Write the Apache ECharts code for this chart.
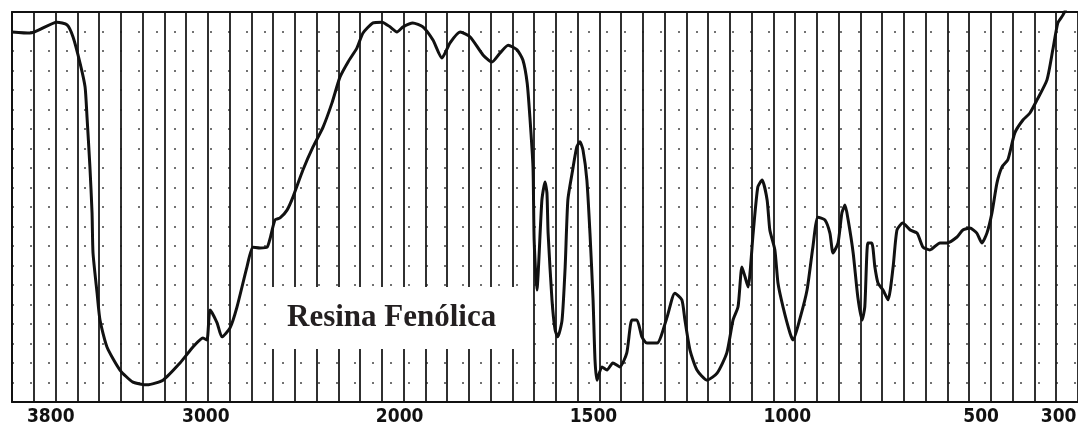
<!DOCTYPE html>
<html>
<head>
<meta charset="utf-8">
<script src="https://cdn.jsdelivr.net/npm/echarts@6/dist/echarts.min.js"></script>
<style>
  html, body { margin: 0; padding: 0; background: #fff; }
  #chart { width: 1078px; height: 428px; }
</style>
</head>
<body>
<div id="chart"></div>
<script>
// Tick labels (wavenumber, cm-1)
const tickLabels = [3800, 3000, 2000, 1500, 1000, 500, 300];

// IR spectrum: wavenumber (cm-1) and transmittance (%)
const wavenumbers = [
  4000, 3907, 3768, 3716, 3685, 3649, 3623, 3613, 3598, 3587,
  3582, 3561, 3546, 3510, 3443, 3376, 3303, 3221, 3133, 3066,
  3015, 2994, 2978, 2942, 2917, 2875, 2839, 2788, 2757, 2720,
  2684, 2669, 2643, 2617, 2581, 2550, 2499, 2447, 2395, 2349,
  2308, 2266, 2220, 2189, 2137, 2091, 2050, 2014, 1991, 1966,
  1940, 1914, 1891, 1870, 1844, 1818, 1785, 1762, 1741, 1720,
  1697, 1682, 1671, 1664, 1656, 1653, 1646, 1633, 1625, 1620,
  1617, 1607, 1599, 1592, 1581, 1573, 1566, 1555, 1543, 1535,
  1527, 1517, 1509, 1501, 1496, 1491, 1478, 1465, 1450, 1432,
  1414, 1401, 1388, 1375, 1362, 1336, 1310, 1290, 1272, 1264,
  1251, 1233, 1207, 1181, 1156, 1140, 1127, 1117, 1109, 1101,
  1088, 1076, 1065, 1052, 1045, 1032, 1024, 1011, 993, 985,
  967, 949, 934, 921, 903, 890, 882, 869, 859, 851,
  843, 830, 818, 807, 800, 792, 782, 774, 766, 753,
  740, 727, 717, 702, 683, 665, 650, 632, 606, 588,
  562, 547, 529, 511, 498, 485, 472, 459, 446, 431,
  413, 392, 374, 356, 330, 315, 302, 289, 276
];
const transmittance = [
  94.9, 94.6, 97.4, 96.7, 93.6, 86.9, 80.8, 73.1, 60.3, 48.5,
  38.2, 27.9, 21.0, 14.1, 8.2, 5.1, 4.4, 5.6, 10.0, 14.1,
  16.4, 15.9, 23.6, 20.3, 16.7, 19.0, 24.4, 34.6, 39.7, 39.5,
  39.7, 41.8, 46.7, 47.2, 49.2, 52.6, 59.5, 65.4, 70.5, 76.7,
  83.3, 87.2, 90.8, 94.6, 97.2, 97.4, 96.2, 94.9, 96.2, 97.2,
  96.2, 92.8, 88.2, 92.1, 94.9, 93.6, 89.0, 87.2, 89.5, 91.5,
  90.3, 87.7, 81.8, 73.1, 60.3, 41.5, 28.7, 51.8, 56.4, 53.6,
  43.3, 26.2, 18.5, 16.7, 21.0, 34.6, 51.8, 58.7, 65.4, 66.7,
  64.6, 56.9, 43.3, 26.2, 10.8, 5.6, 9.0, 8.2, 10.0, 9.0,
  12.6, 21.0, 21.0, 16.7, 15.1, 15.1, 21.8, 27.9, 26.2, 21.0,
  13.3, 8.2, 5.6, 7.4, 12.6, 21.0, 24.4, 34.6, 32.1, 29.5,
  43.3, 55.1, 56.9, 51.8, 44.1, 39.0, 30.5, 24.4, 17.7, 15.9,
  21.5, 28.7, 39.7, 47.4, 46.7, 43.3, 38.2, 40.8, 48.5, 50.5,
  46.7, 38.2, 26.9, 21.0, 24.4, 40.8, 40.8, 34.6, 30.5, 28.7,
  26.2, 34.6, 44.1, 45.9, 44.1, 43.3, 39.7, 39.0, 40.8, 40.8,
  42.3, 44.1, 44.6, 43.3, 40.8, 43.3, 48.5, 56.2, 60.3, 62.1,
  69.0, 72.3, 74.1, 77.4, 82.6, 90.3, 97.2, 99.2, 101.8
];

const chartLabel = 'Resina Fenólica';

// Standard IR chart scale change: above 2000 cm-1 the scale is compressed by half
function toAxis(w) { return w <= 2000 ? w : 1000 + w / 2; }
function fromAxis(u) { return u <= 2000 ? u : 2 * u - 2000; }

const seriesData = wavenumbers.map((w, i) => [toAxis(w), transmittance[i]]);

const chart = echarts.init(document.getElementById('chart'), null, { renderer: 'canvas' });
chart.setOption({
  backgroundColor: '#ffffff',
  animation: false,
  title: {
    text: chartLabel,
    left: 270,
    top: 287,
    backgroundColor: '#ffffff',
    padding: [13, 26, 13, 17],
    textStyle: {
      fontFamily: '"Liberation Serif", "Times New Roman", serif',
      fontWeight: 'bold',
      fontSize: 31,
      lineHeight: 36,
      color: '#231f20'
    },
    z: 10
  },
  grid: { left: 12, right: 0, top: 12, bottom: 26, containLabel: false, outerBoundsMode: 'none' },
  xAxis: [
    {
      type: 'value',
      inverse: true,
      min: 250,
      max: 3000,
      interval: 50,
      axisLine: { show: true, lineStyle: { color: '#111', width: 2 } },
      axisTick: { show: false },
      splitLine: { show: false },
      axisLabel: {
        show: true,
        margin: 6,
        color: '#111',
        fontWeight: 'bold',
        fontSize: 19,
        fontFamily: '"Liberation Sans Narrow", "DejaVu Sans Condensed", "Liberation Sans", sans-serif',
        formatter: function (u) {
          const w = Math.round(fromAxis(u));
          return tickLabels.indexOf(w) >= 0 ? String(w) : '';
        }
      }
    },
    {
      type: 'value',
      position: 'top',
      min: 0,
      max: 49,
      interval: 1,
      axisLine: { show: true, lineStyle: { color: '#111', width: 2 } },
      axisTick: { show: false },
      axisLabel: { show: false },
      splitLine: { show: true, lineStyle: { color: '#1a1a1a', width: 1.8 } }
    }
  ],
  yAxis: {
    type: 'value',
    min: 0,
    max: 100,
    interval: 5,
    axisLine: { show: true, lineStyle: { color: '#111', width: 2 } },
    axisTick: { show: false },
    axisLabel: { show: false },
    splitLine: { show: true, lineStyle: { color: '#444', width: 1.5, type: [2, 16] } }
  },
  series: [{
    type: 'line',
    xAxisIndex: 0,
    data: seriesData,
    showSymbol: false,
    smooth: 0.2,
    clip: true,
    lineStyle: { color: '#111', width: 3 },
    z: 5
  }]
});
</script>
</body>
</html>
